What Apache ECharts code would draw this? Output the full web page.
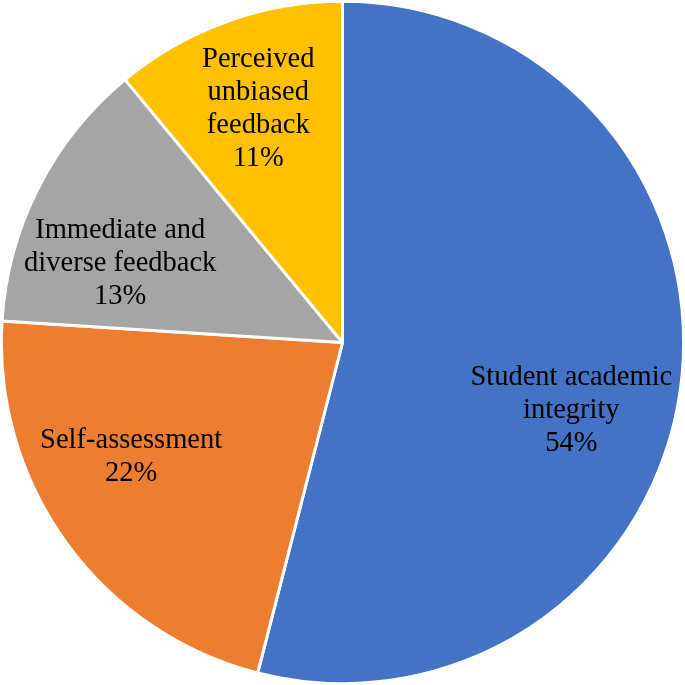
<!DOCTYPE html>
<html lang="en">
<head>
    <meta charset="utf-8" />
    <title>Pie</title>
    <script src="https://cdn.jsdelivr.net/npm/echarts@6/dist/echarts.min.js"></script>
    <style>
        html, body { margin: 0; padding: 0; background: #fff; }
        #chartmain { width: 685px; height: 685px; }
    </style>
</head>
<body>
    <div id="chartmain"></div>
    <script>
        // categories and shares (%)
        var Names = ['Student academic\nintegrity', 'Self-assessment', 'Immediate and\ndiverse feedback', 'Perceived\nunbiased\nfeedback'];
        var Values = [54, 22, 13, 11];
        var Colors = ['#4472C4', '#ED7D31', '#A5A5A5', '#FFC000'];
        var LabelShift = [[-12, 38], [-15, -28], [-6, 31], [-2, -5]];   // nudges to sit like the original labels

        var SData = [];
        for (var i in Names) { SData.push({ name: Names[i], value: Values[i], itemStyle: { color: Colors[i] } }); }
        var LData = [];
        for (var i in Names) { LData.push({ name: Names[i], value: Values[i], label: { offset: LabelShift[i] } }); }

        var chart = echarts.init(document.getElementById('chartmain'));
        chart.setOption({
            animation: false,
            series: [
                {   // the slices
                    type: 'pie', center: ['50%', '50%'], radius: '99.6%',
                    startAngle: 90, clockwise: true, silent: true,
                    itemStyle: { borderColor: '#fff', borderWidth: 3 },
                    label: { show: false }, labelLine: { show: false },
                    data: SData
                },
                {   // transparent ring carrying the labels at ~70% of the radius
                    type: 'pie', center: ['50%', '50%'], radius: ['40%', '100%'],
                    startAngle: 90, clockwise: true, silent: true,
                    itemStyle: { color: 'rgba(0,0,0,0)', borderWidth: 0 },
                    label: {
                        show: true, position: 'inside',
                        formatter: function (p) { return p.name + '\n' + p.value + '%'; },
                        fontFamily: '"Liberation Serif", "Times New Roman", serif',
                        fontSize: 28.5, lineHeight: 33, color: '#000', align: 'center'
                    },
                    labelLine: { show: false },
                    data: LData
                }
            ]
        });
    </script>
</body>
</html>
